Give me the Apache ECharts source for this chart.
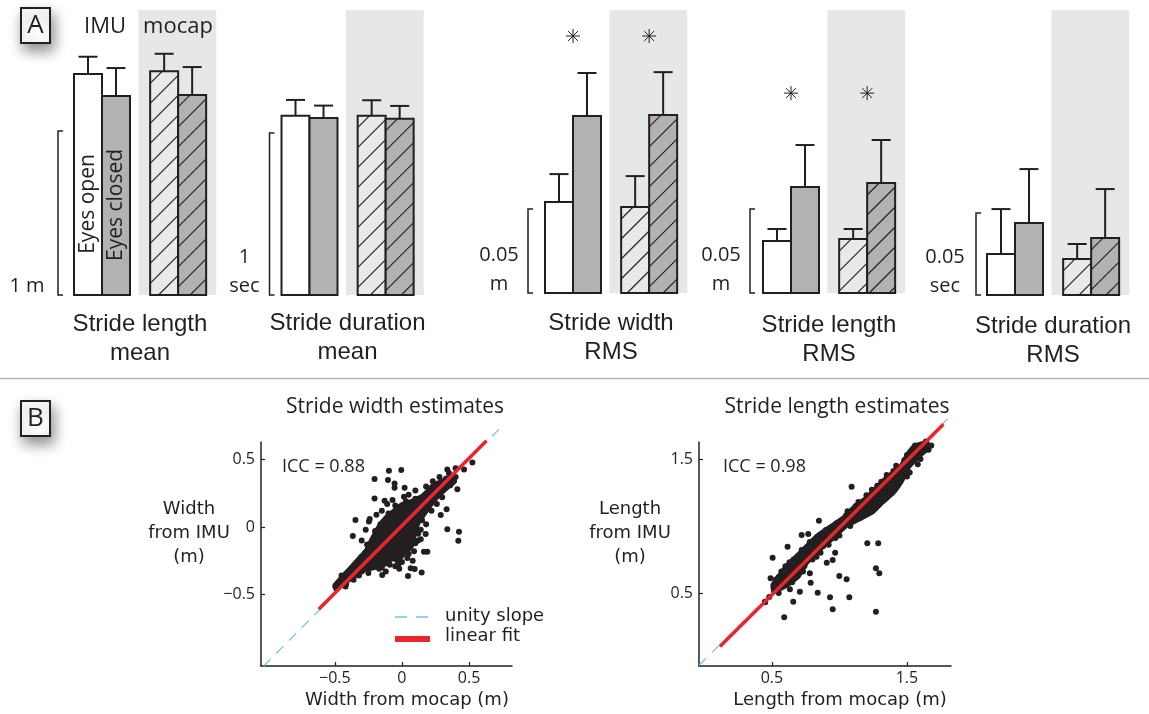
<!DOCTYPE html>
<html>
<head>
<meta charset="utf-8">
<script src="https://cdn.jsdelivr.net/npm/echarts@6/dist/echarts.min.js"></script>
<style>
  html, body { margin: 0; padding: 0; background: #fff; }
  #chart { width: 1149px; height: 714px; }
</style>
</head>
<body>
<div id="chart"></div>
<script>
// ---------- panel A: gait measures (IMU vs mocap, eyes open / closed) ----------
const measures = ["Stride length\nmean", "Stride duration\nmean", "Stride width\nRMS", "Stride length\nRMS", "Stride duration\nRMS"];
const conditions = ["IMU eyes open", "IMU eyes closed", "mocap eyes open", "mocap eyes closed"];
const barMeans = [
  [1.348, 1.213, 1.364, 1.220],
  [1.107, 1.093, 1.107, 1.088],
  [0.0542, 0.1054, 0.0512, 0.1060],
  [0.0310, 0.0631, 0.0321, 0.0655],
  [0.0250, 0.0439, 0.0220, 0.0348],
];
const barSD = [
  [0.105, 0.171, 0.107, 0.170],
  [0.097, 0.076, 0.095, 0.079],
  [0.0166, 0.0256, 0.0184, 0.0255],
  [0.0071, 0.0250, 0.0060, 0.0256],
  [0.0274, 0.0329, 0.0091, 0.0298],
];
const starLevel = [null, null, 0.153, 0.119, null];
const scaleLength = [1, 1, 0.05, 0.05, 0.05];
const scaleLabel = ["1 m", "1\nsec", "0.05\nm", "0.05\nm", "0.05\nsec"];
const axisMax = [1.738, 1.759, 0.1685, 0.1685, 0.1738];

// ---------- panel B: scatter of IMU vs mocap ----------
// outline of the dense part of each cloud [mocap, imu]
const widthCore = [
  [-0.507, -0.43], [-0.371, -0.281], [-0.271, -0.17], [-0.234, -0.096], [-0.172, 0.015],
  [-0.122, 0.076], [-0.047, 0.138], [0.002, 0.175], [0.077, 0.2], [0.152, 0.237],
  [0.226, 0.311], [0.301, 0.348], [0.375, 0.385], [0.4, 0.336], [0.326, 0.274],
  [0.251, 0.2], [0.177, 0.101], [0.127, 0.027], [0.102, -0.047], [0.077, -0.146],
  [0.027, -0.195], [-0.022, -0.244], [-0.072, -0.244], [-0.122, -0.281], [-0.196, -0.306],
  [-0.271, -0.319], [-0.346, -0.368], [-0.42, -0.417], [-0.495, -0.467],
];
const widthPts = [
  [-0.204, 0.356], [-0.104, 0.348], [-0.097, 0.417], [-0.005, 0.422], [-0.055, 0.323],
  [-0.055, 0.291], [0.02, 0.291], [-0.204, 0.212], [-0.129, 0.195], [0.015, 0.225],
  [-0.346, 0.052], [-0.366, -0.067], [-0.246, 0.04], [0.338, 0.427], [0.4, 0.435],
  [0.463, 0.427], [0.525, 0.479], [0.413, 0.279], [0.338, 0.343], [0.333, 0.131],
  [0.289, 0.089], [0.338, -0.017], [0.425, -0.035], [0.42, -0.101], [0.197, 0.15],
  [0.177, -0.052], [0.164, -0.183], [0.189, -0.183], [0.065, -0.306], [0.095, -0.311],
  [0.147, -0.338], [0.045, -0.363], [-0.147, -0.356], [-0.047, -0.237], [-0.027, -0.281],
  [-0.495, -0.442], [-0.416, -0.422], [-0.483, -0.454], [-0.396, -0.38], [-0.308, -0.306],
  [-0.45, -0.36], [-0.38, -0.33], [-0.3, -0.22], [-0.28, -0.28], [-0.22, -0.12],
  [-0.2, -0.2], [-0.18, -0.05], [-0.16, 0.02], [-0.1, 0.1], [-0.08, 0.05],
  [-0.05, 0.16], [0.03, 0.19], [0.1, 0.21], [0.12, 0.16], [0.2, 0.26],
  [0.25, 0.3], [0.3, 0.31], [0.35, 0.4], [0.4, 0.37], [0.3, 0.22],
  [0.22, 0.12], [0.15, 0.05], [0.12, -0.05], [0.1, -0.12], [0.05, -0.2],
  [0.0, -0.26], [-0.05, -0.29], [-0.1, -0.23], [-0.15, -0.3], [-0.25, -0.34],
  [-0.32, -0.36], [-0.42, -0.44], [0.14, -0.09], [0.08, -0.25], [-0.02, -0.31],
  [-0.12, -0.33], [0.18, 0.02], [0.26, 0.17],
  [-0.27, -0.02], [-0.24, 0.06], [-0.19, 0.09], [-0.15, 0.12], [-0.11, 0.17],
  [-0.07, 0.2], [0.05, 0.24], [0.1, 0.27], [0.18, 0.3], [0.23, 0.34],
  [0.28, 0.37], [0.33, 0.36], [0.36, 0.31], [0.28, 0.25], [0.2, 0.19],
  [0.16, 0.11], [0.13, 0.07], [0.14, -0.02], [0.12, -0.1], [0.09, -0.18],
  [0.04, -0.23], [-0.03, -0.27], [-0.09, -0.28], [-0.17, -0.31], [-0.23, -0.3],
  [-0.3, -0.33], [-0.36, -0.39], [-0.44, -0.39], [-0.34, -0.27], [-0.26, -0.13],
  [-0.2, -0.03], [-0.3, -0.1],
];
const widthFit = [[-0.62, -0.61], [0.63, 0.64]];
const widthUnity = [[-1.03, -1.03], [0.73, 0.73]];

const lengthCore = [
  [0.5, 0.56], [0.6, 0.7], [0.7, 0.8], [0.83, 0.93], [0.93, 1.0], [1.03, 1.07],
  [1.1, 1.14], [1.2, 1.22], [1.28, 1.3], [1.35, 1.37], [1.45, 1.45], [1.5, 1.54],
  [1.55, 1.6], [1.65, 1.63], [1.67, 1.58], [1.62, 1.54], [1.52, 1.44], [1.47, 1.34],
  [1.4, 1.24], [1.32, 1.17], [1.25, 1.1], [1.15, 1.045], [1.05, 0.995], [0.95, 0.9],
  [0.86, 0.82], [0.76, 0.72], [0.7, 0.62], [0.61, 0.55], [0.51, 0.5],
];
const lengthPts = [
  [0.591, 0.319], [0.658, 0.435], [0.839, 0.502], [0.93, 0.468], [0.95, 0.378],
  [1.073, 0.468], [1.27, 0.36], [0.999, 0.627], [1.053, 0.602], [1.27, 0.684],
  [1.295, 0.647], [1.206, 0.871], [1.287, 0.871], [0.707, 0.51], [0.633, 0.528],
  [0.505, 0.763], [0.49, 0.61], [0.616, 0.846], [0.848, 1.04], [1.09, 1.293],
  [0.968, 0.801], [0.95, 0.746], [0.906, 0.726], [0.787, 0.577], [0.781, 0.647],
  [0.727, 0.771], [0.72, 0.933], [0.769, 0.94], [0.448, 0.435],
  [0.52, 0.55], [0.55, 0.62], [0.58, 0.57], [0.6, 0.7], [0.62, 0.62],
  [0.66, 0.75], [0.68, 0.63], [0.72, 0.82], [0.74, 0.7], [0.78, 0.88],
  [0.8, 0.75], [0.84, 0.92], [0.86, 0.8], [0.9, 0.97], [0.92, 0.86],
  [0.98, 1.02], [1.0, 0.93], [1.05, 1.08], [1.08, 1.0], [1.12, 1.15],
  [1.15, 1.06], [1.2, 1.23], [1.22, 1.13], [1.28, 1.3], [1.3, 1.2],
  [1.35, 1.38], [1.38, 1.27], [1.42, 1.45], [1.45, 1.33], [1.5, 1.53],
  [1.52, 1.4], [1.56, 1.6], [1.6, 1.5], [1.64, 1.63], [1.66, 1.57],
  [1.68, 1.6], [0.48, 0.47], [0.45, 0.43],
  [0.53, 0.6], [0.57, 0.66], [0.63, 0.73], [0.67, 0.68], [0.71, 0.74],
  [0.75, 0.79], [0.79, 0.84], [0.82, 0.87], [0.87, 0.91], [0.88, 0.85],
  [0.94, 0.96], [0.97, 0.91], [1.01, 1.04], [1.06, 1.11], [1.11, 1.06],
  [1.14, 1.18], [1.18, 1.1], [1.24, 1.27], [1.26, 1.16], [1.31, 1.33],
  [1.34, 1.22], [1.4, 1.41], [1.43, 1.3], [1.48, 1.49], [1.5, 1.37],
  [1.55, 1.55], [1.58, 1.46], [1.62, 1.59], [0.65, 0.58], [0.73, 0.66],
  [0.83, 0.77], [0.55, 0.5],
];
const lengthFit = [[0.115, 0.1], [1.77, 1.76]];
const lengthUnity = [[-0.04, -0.04], [1.8, 1.8]];
const iccValues = [0.88, 0.98];

// ---------- layout ----------
const INK = "#231f20";
const MYRIAD = '"Open Sans", "Noto Sans", sans-serif';
const UNIT = 28;              // px per bar
const MOCAP_X = 2.72;         // bar slot of the mocap pair
const barX = [0, 1, MOCAP_X, MOCAP_X + 1];
const barFill = ["#ffffff", "#b2b2b2", "#e9e9ea", "#b2b2b2"];
const groupLeft = [74, 281.5, 545, 763, 987];
const groupBottom = [295, 295, 293, 293, 295];
const bracketGap = [16, 12, 17, 13, 11];
const scaleLabelDx = [31, 25, 29, 29, 31];
const labelY = [339, 338, 338, 340, 341];

function hatch(x0, y0, x1, y1, step) {
  const out = [];
  for (let c = x0 + y0 + step * 0.6; c < x1 + y1; c += step) {
    const xa = Math.max(x0, c - y1), xb = Math.min(x1, c - y0);
    if (xb - xa > 0.5) {
      out.push({ type: "line", shape: { x1: xa, y1: c - xa, x2: xb, y2: c - xb },
        style: { stroke: INK, lineWidth: 1.1 } });
    }
  }
  return out;
}

function renderBar(params, api) {
  const xc = api.value(0), m = api.value(1), sd = api.value(2), kind = api.value(3);
  const tl = api.coord([xc - 0.5, m]);
  const br = api.coord([xc + 0.5, 0]);
  const top = api.coord([xc, m + sd]);
  const capL = api.coord([xc - 0.34, m + sd])[0];
  const capR = api.coord([xc + 0.34, m + sd])[0];
  const kids = [
    { type: "rect", shape: { x: tl[0], y: tl[1], width: br[0] - tl[0], height: br[1] - tl[1] },
      style: { fill: barFill[kind] } },
  ];
  if (kind >= 2) kids.push(...hatch(tl[0], tl[1], br[0], br[1], 20));
  kids.push(
    { type: "rect", shape: { x: tl[0], y: tl[1], width: br[0] - tl[0], height: br[1] - tl[1] },
      style: { fill: "none", stroke: INK, lineWidth: 2 } },
    { type: "line", shape: { x1: top[0], y1: tl[1], x2: top[0], y2: top[1] },
      style: { stroke: INK, lineWidth: 2 } },
    { type: "line", shape: { x1: capL, y1: top[1], x2: capR, y2: top[1] },
      style: { stroke: INK, lineWidth: 2 } }
  );
  return { type: "group", children: kids };
}

function renderStar(params, api) {
  const p = api.coord([api.value(0), api.value(1)]);
  const r = 7, kids = [];
  for (let a = 0; a < 4; a++) {
    const t = a * Math.PI / 4;
    kids.push({ type: "line",
      shape: { x1: p[0] - r * Math.cos(t), y1: p[1] - r * Math.sin(t), x2: p[0] + r * Math.cos(t), y2: p[1] + r * Math.sin(t) },
      style: { stroke: INK, lineWidth: 1 } });
  }
  return { type: "group", children: kids };
}

function txt(x, y, text, font, align, vAlign, lineHeight, extra) {
  return Object.assign({
    type: "text", x: x, y: y, z: 100, silent: true,
    style: { text: text, font: font, fill: INK, align: align || "center", textAlign: align || "center",
      verticalAlign: vAlign || "middle", textVerticalAlign: vAlign || "middle", lineHeight: lineHeight || 20 },
  }, extra || {});
}

function letterBox(x, y, letter) {
  return {
    type: "group", x: x, y: y, z: 100, silent: true,
    children: [
      { type: "rect", shape: { x: 0, y: 0, width: 29, height: 35 },
        style: { fill: "#fff", stroke: INK, lineWidth: 2, shadowBlur: 14, shadowOffsetX: 3, shadowOffsetY: 7, shadowColor: "rgba(0,0,0,0.45)" } },
      { type: "text", x: 14.5, y: 18,
        style: { text: letter, font: "26px " + MYRIAD, fill: INK, align: "center", verticalAlign: "middle", textAlign: "center", textVerticalAlign: "middle" } },
    ],
  };
}

const option = { animation: false, grid: [], xAxis: [], yAxis: [], series: [], graphic: [] };

measures.forEach((name, g) => {
  option.grid.push({ left: groupLeft[g], top: 10, width: 5.1 * UNIT, height: groupBottom[g] - 10 });
  option.xAxis.push({ gridIndex: g, type: "value", min: -0.5, max: 4.6, show: false });
  option.yAxis.push({ gridIndex: g, type: "value", min: 0, max: axisMax[g], show: false });

  // gray background behind the mocap pair
  option.series.push({
    type: "custom", xAxisIndex: g, yAxisIndex: g, z: 1, silent: true,
    data: [[1.8, 4.58]],
    renderItem: (params, api) => {
      const cs = params.coordSys;
      const x0 = api.coord([api.value(0), 0])[0], x1 = api.coord([api.value(1), 0])[0];
      return { type: "rect", shape: { x: x0, y: cs.y, width: x1 - x0, height: cs.height }, style: { fill: "#e6e7e8" } };
    },
  });

  option.series.push({
    type: "custom", name: name, xAxisIndex: g, yAxisIndex: g, z: 2,
    data: barMeans[g].map((v, k) => [barX[k], v, barSD[g][k], k]),
    renderItem: renderBar,
  });

  // scale bracket
  option.series.push({
    type: "custom", xAxisIndex: g, yAxisIndex: g, z: 2, silent: true,
    data: [[0, scaleLength[g]]],
    renderItem: (params, api) => {
      const bx = api.coord([-0.5, 0])[0] - bracketGap[g];
      const yb = api.coord([0, 0])[1], yt = api.coord([0, api.value(1)])[1];
      return { type: "polyline", shape: { points: [[bx + 5, yt], [bx, yt], [bx, yb], [bx + 5, yb]] },
        style: { stroke: INK, lineWidth: 1.5, fill: "none" } };
    },
  });

  if (starLevel[g] != null) {
    option.series.push({
      type: "custom", xAxisIndex: g, yAxisIndex: g, z: 3, silent: true,
      data: [[0.5, starLevel[g]], [MOCAP_X + 0.5, starLevel[g]]],
      renderItem: renderStar,
    });
  }

  const bx = groupLeft[g] - bracketGap[g];
  option.graphic.push(txt(bx - scaleLabelDx[g], groupBottom[g] + 6, scaleLabel[g], "20px " + MYRIAD, "center", "bottom", 29));
  option.graphic.push(txt(groupLeft[g] + 14 + 52, labelY[g], name, '24px "Liberation Sans", Arial, sans-serif', "center", "middle", 29));
});

// ---------- scatter panels ----------
const fmt = (v) => (v < 0 ? "\u2212" : "") + Math.abs(v);
const scatterSpec = [
  { left: 261, width: 251, xr: [-1.05, 0.82], yr: [-1.03, 0.63], ticks: [-0.5, 0, 0.5],
    core: widthCore, pts: widthPts, fit: widthFit, unity: widthUnity },
  { left: 699, width: 252, xr: [-0.04, 1.826], yr: [-0.045, 1.627], ticks: [0.5, 1.5],
    core: lengthCore, pts: lengthPts, fit: lengthFit, unity: lengthUnity },
];

scatterSpec.forEach((s, i) => {
  const gi = measures.length + i;
  option.grid.push({ left: s.left, top: 442, width: s.width, height: 224 });
  const axisCommon = {
    gridIndex: gi, type: "value",
    axisLine: { onZero: false, lineStyle: { color: INK, width: 1.5 } },
    axisTick: { inside: true, length: 4, customValues: s.ticks, lineStyle: { color: INK, width: 1.2 } },
    axisLabel: { customValues: s.ticks, formatter: fmt, color: INK, fontFamily: MYRIAD, fontSize: 16 },
    splitLine: { show: false },
  };
  option.xAxis.push(Object.assign({}, axisCommon, { min: s.xr[0], max: s.xr[1],
    axisLabel: Object.assign({}, axisCommon.axisLabel, { margin: 4 }) }));
  option.yAxis.push(Object.assign({}, axisCommon, { min: s.yr[0], max: s.yr[1],
    axisLabel: Object.assign({}, axisCommon.axisLabel, { margin: 6 }) }));

  option.series.push({
    type: "line", xAxisIndex: gi, yAxisIndex: gi, data: s.unity, symbol: "none", clip: false, z: 2,
    lineStyle: { color: "#6cc6e4", width: 1.2, type: [10, 8] }, silent: true,
  });
  option.series.push({
    type: "custom", xAxisIndex: gi, yAxisIndex: gi, z: 3, silent: true, data: [[0, 0]],
    renderItem: (params, api) => ({
      type: "polygon",
      shape: { points: s.core.map((p) => api.coord(p)), smooth: 0.12 },
      style: { fill: INK, stroke: INK, lineWidth: 3, lineJoin: "round" },
    }),
  });
  option.series.push({
    type: "scatter", xAxisIndex: gi, yAxisIndex: gi, data: s.pts, clip: false, z: 4,
    symbol: "circle", symbolSize: 6, itemStyle: { color: INK, opacity: 1 }, silent: true,
  });
  option.series.push({
    type: "line", xAxisIndex: gi, yAxisIndex: gi, data: s.fit, symbol: "none", clip: false, z: 5,
    lineStyle: { color: "#e8262b", width: 3.5 }, silent: true,
  });
});

// ---------- text, frames ----------
const WIDE = '"DejaVu Sans", Verdana, sans-serif';
option.graphic.push(
  letterBox(21, 8, "A"),
  letterBox(21, 401, "B"),
  txt(105, 27, "IMU", "22px " + MYRIAD),
  txt(178, 27, "mocap", "22px " + MYRIAD),
  txt(88, 204, "Eyes open", "21px " + MYRIAD, "center", "middle", 21, { rotation: Math.PI / 2 }),
  txt(116, 205, "Eyes closed", "21px " + MYRIAD, "center", "middle", 21, { rotation: Math.PI / 2 }),
  { type: "line", z: 100, silent: true, shape: { x1: 0, y1: 378.5, x2: 1149, y2: 378.5 },
    style: { stroke: "#b5b5b5", lineWidth: 1.5 } },

  txt(395, 407, "Stride width estimates", "21px " + MYRIAD),
  txt(837, 407, "Stride length estimates", "21px " + MYRIAD),
  txt(282, 467, "ICC = " + iccValues[0].toFixed(2), "18px " + MYRIAD, "left"),
  txt(723, 467, "ICC = " + iccValues[1].toFixed(2), "18px " + MYRIAD, "left"),
  txt(189, 533, "Width\nfrom IMU\n(m)", "18px " + WIDE, "center", "middle", 24),
  txt(630, 533, "Length\nfrom IMU\n(m)", "18px " + WIDE, "center", "middle", 24),
  txt(407, 700, "Width from mocap (m)", "18px " + WIDE),
  txt(840, 700, "Length from mocap (m)", "18px " + WIDE),

  { type: "line", z: 100, silent: true, shape: { x1: 395, y1: 617, x2: 432, y2: 617 },
    style: { stroke: "#6cc6e4", lineWidth: 1.3, lineDash: [12, 9] } },
  { type: "line", z: 100, silent: true, shape: { x1: 395, y1: 639, x2: 430, y2: 639 },
    style: { stroke: "#e8262b", lineWidth: 6 } },
  txt(445, 616, "unity slope", "18px " + WIDE, "left"),
  txt(445, 636, "linear fit", "18px " + WIDE, "left")
);

const chart = echarts.init(document.getElementById("chart"));
chart.setOption(option);
</script>
</body>
</html>
